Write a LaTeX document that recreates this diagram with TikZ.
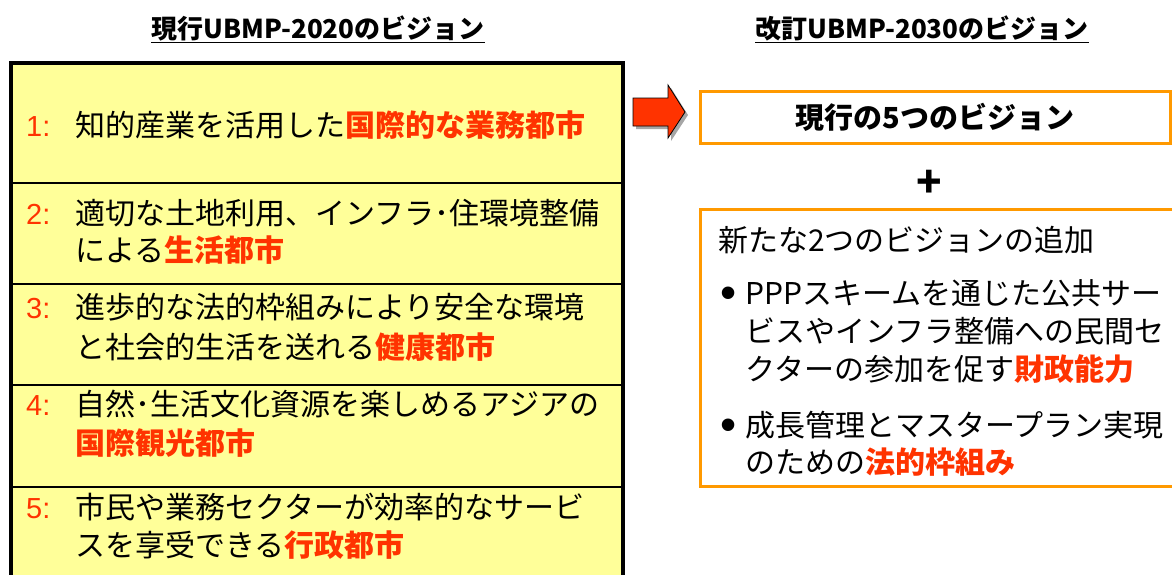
\documentclass[tikz,border=0pt]{standalone}
\usepackage{fontspec}
\setmainfont{Noto Sans CJK JP}
\newfontfamily\arialf{Liberation Sans}
\definecolor{hl}{RGB}{255,51,0}
\definecolor{og}{RGB}{255,153,0}
\definecolor{yl}{RGB}{255,255,153}
\newcommand{\R}[1]{\textcolor{hl}{\textbf{#1}}}
\begin{document}
\begin{tikzpicture}[x=1pt,y=-1pt,
  body/.style={anchor=base west,inner sep=0pt,font=\fontsize{30}{38}\selectfont},
  num/.style={anchor=base west,inner sep=0pt,font=\arialf\fontsize{29}{38}\selectfont,text=hl},
  dot/.style={anchor=base,inner sep=0pt,font=\arialf\fontsize{46}{46}\selectfont},
  title/.style={inner sep=0pt,font=\bfseries\fontsize{26}{28}\selectfont},
  obox/.style={draw=og,line width=3pt}]
\useasboundingbox (0,0) rectangle (1172,574);
% titles
\node[title] (t1) at (318,29) {\underline{現行UBMP-2020のビジョン}};
\node[title] (t2) at (922,29) {\underline{改訂UBMP-2030のビジョン}};
% left box
\fill[yl] (11,63) rectangle (623,580);
\foreach \y in {183,284,385,487} \draw[line width=1.5pt] (11,\y) -- (623,\y);
\draw[line width=4pt] (11,585) -- (11,63) -- (623,63) -- (623,585);
\node[num] (n1) at (26,136.5) {1:};
\node[body] (v1) at (75,136.5) {知的産業を活用した\R{国際的な業務都市}};
\node[num] (n2) at (26,224.5) {2:};
\node[body] (v2a) at (75,224.5) {適切な土地利用、インフラ･住環境整備};
\node[body] (v2b) at (75,261.5) {による\R{生活都市}};
\node[num] (n3) at (26,318.5) {3:};
\node[body] (v3a) at (75,318.5) {進歩的な法的枠組みにより安全な環境};
\node[body] (v3b) at (75,358.5) {と社会的生活を送れる\R{健康都市}};
\node[num] (n4) at (26,415.5) {4:};
\node[body] (v4a) at (75,415.5) {自然･生活文化資源を楽しめるアジアの};
\node[body] (v4b) at (75,454.5) {\R{国際観光都市}};
\node[num] (n5) at (26,518.5) {5:};
\node[body] (v5a) at (75,518.5) {市民や業務セクターが効率的なサービ};
\node[body] (v5b) at (75,556.5) {スを享受できる\R{行政都市}};
% arrow
\fill[gray!70] (636,101) -- (671,101) -- (671,88) -- (688,115) -- (671,141) -- (671,129) -- (636,129) -- cycle;
\draw[fill=hl,line width=0.8pt] (633,98) -- (668,98) -- (668,85) -- (685,112) -- (668,138) -- (668,126) -- (633,126) -- cycle;
% right boxes
\node[obox,minimum width=470pt,minimum height=52pt,inner sep=0pt,font=\bfseries\fontsize{29}{30}\selectfont] (b1) at (935,117) {現行の5つのビジョン};
\node[font=\bfseries\fontsize{42}{42}\selectfont,inner sep=0pt] (plus) at (929,184) {+};
\draw[obox] (700,209) rectangle (1175,486);
\node[body] (h2) at (718,251.5) {新たな2つのビジョンの追加};
\node[dot] (d1) at (729,308) {•};
\node[body] (p1a) at (745,304.5) {PPPスキームを通じた公共サー};
\node[body] (p1b) at (745,342.5) {ビスやインフラ整備への民間セ};
\node[body] (p1c) at (745,380.5) {クターの参加を促す\R{財政能力}};
\node[dot] (d2) at (729,440) {•};
\node[body] (p2a) at (745,436.5) {成長管理とマスタープラン実現};
\node[body] (p2b) at (745,473.5) {のための\R{法的枠組み}};
\end{tikzpicture}
\end{document}
